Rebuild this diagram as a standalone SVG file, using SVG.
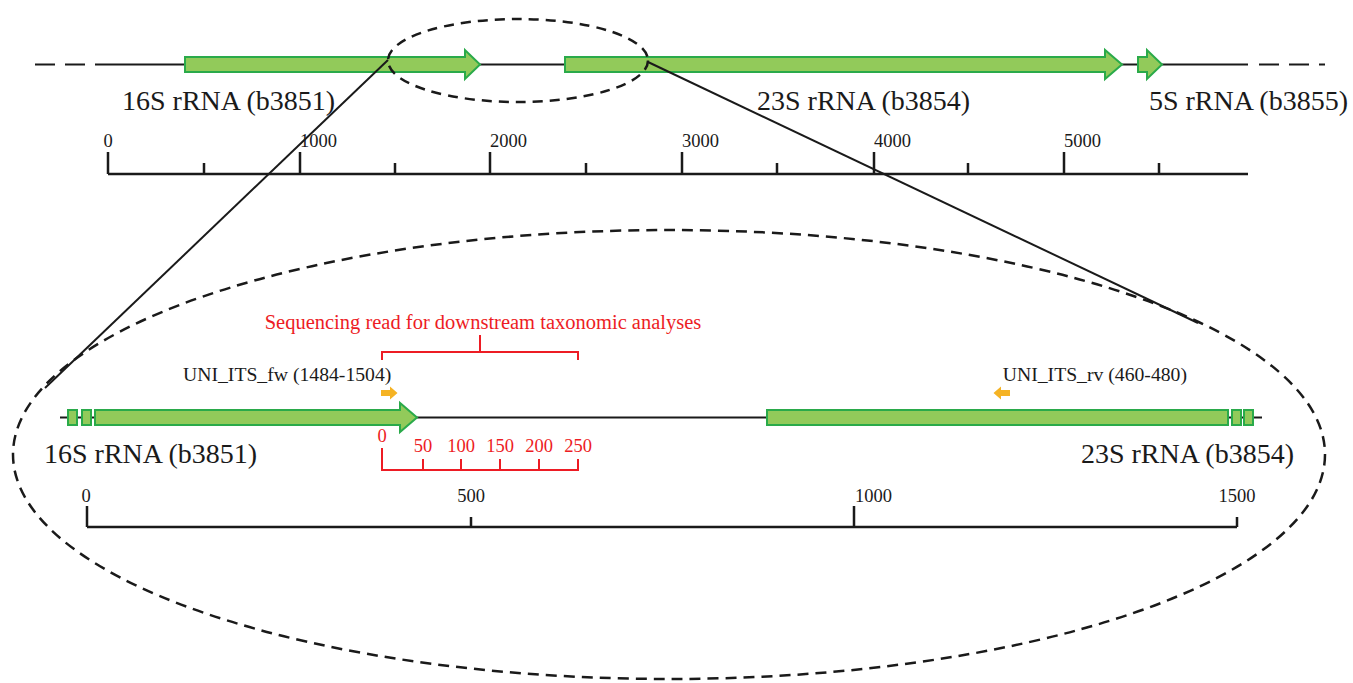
<svg xmlns="http://www.w3.org/2000/svg" width="1353" height="683" viewBox="0 0 1353 683">
<style>
.ln{stroke:#1a1a1a;stroke-width:2;fill:none}
.sc{stroke:#1a1a1a;stroke-width:2.5;fill:none}
.dash{stroke:#1a1a1a;stroke-width:2.5;fill:none;stroke-dasharray:11 7}
.gene{fill:#92CA5A;stroke:#2AAA4A;stroke-width:2}
.prim{fill:#F5B324;stroke:none}
.red{stroke:#ED1C24;stroke-width:2;fill:none}
.t{font-family:"Liberation Serif","Times New Roman",serif;fill:#1a1a1a}
.big{font-size:28px}
.num{font-size:18.5px}
.pl{font-size:19.7px}
.seq{font-size:20.5px}
.rt{font-family:"Liberation Serif","Times New Roman",serif;fill:#ED1C24}
</style>
<rect width="1353" height="683" fill="#ffffff"/>

<g id="top-locus">
  <line x1="35" y1="64.5" x2="108" y2="64.5" class="ln" style="stroke-dasharray:20 10"/>
  <line x1="108" y1="64.5" x2="1248" y2="64.5" class="ln"/>
  <line x1="1259" y1="64.5" x2="1325" y2="64.5" class="ln" style="stroke-dasharray:20 10"/>
</g>
<g id="top-16S">
  <polygon class="gene" points="185,57 465,57 465,50 480,64.5 465,79 465,72 185,72"/>
  <text class="t big" x="122" y="110">16S rRNA (b3851)</text>
</g>
<g id="top-23S">
  <polygon class="gene" points="565,57 1105,57 1105,50 1122,64.5 1105,79 1105,72 565,72"/>
  <text class="t big" x="757" y="110">23S rRNA (b3854)</text>
</g>
<g id="top-5S">
  <polygon class="gene" points="1138,57 1147,57 1147,50 1162,64.5 1147,79 1147,72 1138,72"/>
  <text class="t big" x="1348" y="110" text-anchor="end">5S rRNA (b3855)</text>
</g>
<g id="top-scale">
  <path class="sc" d="M108,174 H1248 M108,152 V174 M300,152 V174 M490,152 V174 M682,152 V174 M874,152 V174 M1064,152 V174 M204,163 V174 M395,163 V174 M586,163 V174 M777,163 V174 M968,163 V174 M1159,163 V174"/>
  <text class="t num" x="108" y="147" text-anchor="middle">0</text>
  <text class="t num" x="300" y="147">1000</text>
  <text class="t num" x="490" y="147">2000</text>
  <text class="t num" x="682" y="147">3000</text>
  <text class="t num" x="874" y="147">4000</text>
  <text class="t num" x="1064" y="147">5000</text>
</g>

<g id="zoom-ellipse-small">
  <ellipse class="dash" cx="518" cy="60.5" rx="130" ry="41.5" style="stroke-dasharray:10 7"/>
</g>
<g id="zoom-ellipse-large">
  <ellipse class="dash" cx="669" cy="454.5" rx="656" ry="224.5"/>
</g>

<g id="connectors">
  <line class="ln" x1="388" y1="60" x2="45" y2="388"/>
  <line class="ln" x1="648" y1="62" x2="1198" y2="323"/>
</g>

<g id="bottom-locus">
  <line class="ln" x1="60" y1="417.5" x2="1262" y2="417.5"/>
</g>
<g id="bottom-16S">
  <rect class="gene" x="68" y="410" width="9" height="15"/>
  <rect class="gene" x="82" y="410" width="9" height="15"/>
  <polygon class="gene" points="95,410 400,410 400,403 417,417.5 400,432 400,425 95,425"/>
  <text class="t big" x="44" y="463">16S rRNA (b3851)</text>
</g>
<g id="bottom-23S">
  <rect class="gene" x="767" y="410" width="461" height="15"/>
  <rect class="gene" x="1232" y="410" width="9" height="15"/>
  <rect class="gene" x="1244" y="410" width="9" height="15"/>
  <text class="t big" x="1294" y="463" text-anchor="end">23S rRNA (b3854)</text>
</g>
<g id="primer-fw">
  <polygon class="prim" points="381,390 390,390 390,386.5 397.5,393 390,399.5 390,396 381,396"/>
  <text class="t pl" x="183" y="381">UNI_ITS_fw (1484-1504)</text>
</g>
<g id="primer-rv">
  <polygon class="prim" points="1010,390 1001,390 1001,386.5 993.5,393 1001,399.5 1001,396 1010,396"/>
  <text class="t pl" x="1187" y="381" text-anchor="end">UNI_ITS_rv (460-480)</text>
</g>
<g id="sequencing-read">
  <path class="red" d="M382,360 V352 H578 V360 M480,352 V335"/>
  <text class="rt seq" x="483" y="329" text-anchor="middle">Sequencing read for downstream taxonomic analyses</text>
  <path class="red" d="M382,448 V470 H578 V459 M423,459 V470 M461,459 V470 M500,459 V470 M539,459 V470"/>
  <text class="rt num" x="382" y="442" text-anchor="middle">0</text>
  <text class="rt num" x="423" y="452" text-anchor="middle">50</text>
  <text class="rt num" x="461" y="452" text-anchor="middle">100</text>
  <text class="rt num" x="500" y="452" text-anchor="middle">150</text>
  <text class="rt num" x="539" y="452" text-anchor="middle">200</text>
  <text class="rt num" x="578" y="452" text-anchor="middle">250</text>
</g>
<g id="bottom-scale">
  <path class="sc" d="M87,527 H1237 M87,506 V527 M854,506 V527 M471,517 V527 M1237,517 V527"/>
  <text class="t num" x="86" y="502" text-anchor="middle">0</text>
  <text class="t num" x="471" y="502" text-anchor="middle">500</text>
  <text class="t num" x="855" y="502">1000</text>
  <text class="t num" x="1237" y="502" text-anchor="middle">1500</text>
</g>
</svg>
